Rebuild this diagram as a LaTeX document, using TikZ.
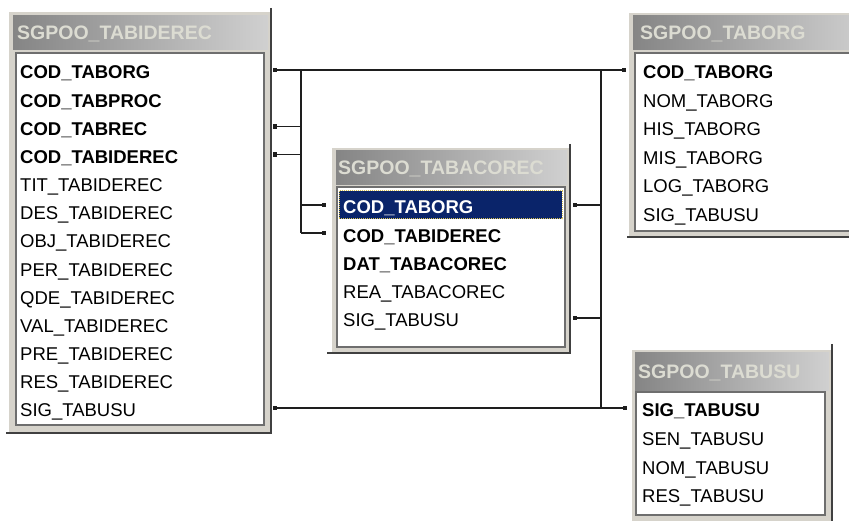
\documentclass[tikz,border=0pt]{standalone}
\usepackage{fontspec}
\setmainfont{Liberation Sans}
\usetikzlibrary{arrows.meta}
\definecolor{framec}{HTML}{D6D3CB}
\definecolor{shadowc}{HTML}{404040}
\definecolor{titleL}{HTML}{858585}
\definecolor{titleR}{HTML}{D0D0D0}
\definecolor{titletext}{HTML}{DCDCD2}
\definecolor{inset}{HTML}{6E6E6E}
\definecolor{selc}{HTML}{0A246A}
\definecolor{dotc}{HTML}{D8C050}
\definecolor{linec}{HTML}{1E1E1E}
\tikzset{
  field/.style={anchor=west, inner sep=0pt, text height=18pt, text depth=0pt, font=\fontsize{18.5}{20}\selectfont},
  keyfield/.style={field, font=\fontsize{18.5}{20}\selectfont\bfseries},
  tabtitle/.style={anchor=base west, inner sep=0pt, text=titletext, font=\fontsize{19.5}{22}\selectfont\bfseries},
  framebox/.style={fill=framec},
  shadowedge/.style={draw=shadowc, line width=2.5pt},
  titlebar/.style={left color=titleL, right color=titleR},
  bodybox/.style={fill=white, draw=inset, line width=1.5pt},
  selbox/.style={fill=selc, draw=dotc, densely dotted, line width=1pt},
  conn/.style={draw=linec, line width=1.5pt},
  sq/.tip={Square[length=4pt,width=4.5pt]},
}
\begin{document}
\begin{tikzpicture}[x=1pt,y=-1pt]
\clip (0,0) rectangle (849,521);
\fill[white] (0,0) rectangle (849,521);

% ---------- Table A: SGPOO_TABIDEREC ----------
\fill[framebox] (9,12) rectangle (271,433);
\draw[shadowedge] (271,8) -- (271,433) -- (6,433);
\shade[titlebar] (13,16) rectangle (268,50);
\draw[bodybox] (16,53) rectangle (264,425);
\node[tabtitle] (tA) at (17,40) {SGPOO\_TABIDEREC};
\node[keyfield] (a1) at (20,70) {COD\_TABORG};
\node[keyfield] (a2) at (20,98.15) {COD\_TABPROC};
\node[keyfield] (a3) at (20,126.3) {COD\_TABREC};
\node[keyfield] (a4) at (20,154.45) {COD\_TABIDEREC};
\node[field] (a5) at (20,182.6) {TIT\_TABIDEREC};
\node[field] (a6) at (20,210.75) {DES\_TABIDEREC};
\node[field] (a7) at (20,238.9) {OBJ\_TABIDEREC};
\node[field] (a8) at (20,267.05) {PER\_TABIDEREC};
\node[field] (a9) at (20,295.2) {QDE\_TABIDEREC};
\node[field] (a10) at (20,323.35) {VAL\_TABIDEREC};
\node[field] (a11) at (20,351.5) {PRE\_TABIDEREC};
\node[field] (a12) at (20,379.65) {RES\_TABIDEREC};
\node[field] (a13) at (20,407.8) {SIG\_TABUSU};

% ---------- Table B: SGPOO_TABACOREC ----------
\fill[framebox] (332,148) rectangle (570,353);
\draw[shadowedge] (570,144) -- (570,353) -- (327,353);
\shade[titlebar] (336,151) rectangle (567,185);
\draw[bodybox] (337,187) rectangle (565,347);
\node[tabtitle] (tB) at (338,175) {SGPOO\_TABACOREC};
\draw[selbox] (339,191) rectangle (562,219);
\node[keyfield, text=white] (b1) at (343,205) {COD\_TABORG};
\node[keyfield] (b2) at (343,233.2) {COD\_TABIDEREC};
\node[keyfield] (b3) at (343,261.4) {DAT\_TABACOREC};
\node[field] (b4) at (343,289.6) {REA\_TABACOREC};
\node[field] (b5) at (343,317.8) {SIG\_TABUSU};

% ---------- Table C: SGPOO_TABORG ----------
\fill[framebox] (629,13) rectangle (870,237);
\draw[shadowedge] (870,237) -- (627,237);
\shade[titlebar] (633,16) rectangle (870,50);
\draw[bodybox] (635,53) rectangle (870,231);
\node[tabtitle] (tC) at (640,40) {SGPOO\_TABORG};
\node[keyfield] (c1) at (643,69.5) {COD\_TABORG};
\node[field] (c2) at (643,98.1) {NOM\_TABORG};
\node[field] (c3) at (643,126.7) {HIS\_TABORG};
\node[field] (c4) at (643,155.3) {MIS\_TABORG};
\node[field] (c5) at (643,183.9) {LOG\_TABORG};
\node[field] (c6) at (643,212.5) {SIG\_TABUSU};

% ---------- Table D: SGPOO_TABUSU ----------
\fill[framebox] (632,350) rectangle (832,522);
\draw[shadowedge] (832,344) -- (832,522);
\shade[titlebar] (635,353) rectangle (829,390);
\draw[bodybox] (636,392) rectangle (825,515);
\node[tabtitle] (tD) at (638,378) {SGPOO\_TABUSU};
\node[keyfield] (d1) at (642,408) {SIG\_TABUSU};
\node[field] (d2) at (642,436.5) {SEN\_TABUSU};
\node[field] (d3) at (642,465) {NOM\_TABUSU};
\node[field] (d4) at (642,493.5) {RES\_TABUSU};

% ---------- connector anchors ----------
\coordinate (aE) at (273,0);
\coordinate (bW) at (326,0);
\coordinate (bE) at (573,0);
\coordinate (cW) at (626,0);
\coordinate (dW) at (627,0);
\coordinate (jL) at (301,0);
\coordinate (jR) at (601,0);

% ---------- connectors ----------
\draw[conn, sq-sq] (a1 -| aE) -- (a1 -| cW);
\draw[conn] (a1 -| jL) -- (b2 -| jL);
\draw[conn, sq-] (a3 -| aE) -- (a3 -| jL);
\draw[conn, sq-] (a4 -| aE) -- (a4 -| jL);
\draw[conn, -sq] (b1 -| jL) -- (b1 -| bW);
\draw[conn, -sq] (b2 -| jL) -- (b2 -| bW);
\draw[conn] (a1 -| jR) -- (a13 -| jR);
\draw[conn, sq-] (b1 -| bE) -- (b1 -| jR);
\draw[conn, sq-] (b5 -| bE) -- (b5 -| jR);
\draw[conn, sq-sq] (a13 -| aE) -- (a13 -| dW);
\end{tikzpicture}
\end{document}
